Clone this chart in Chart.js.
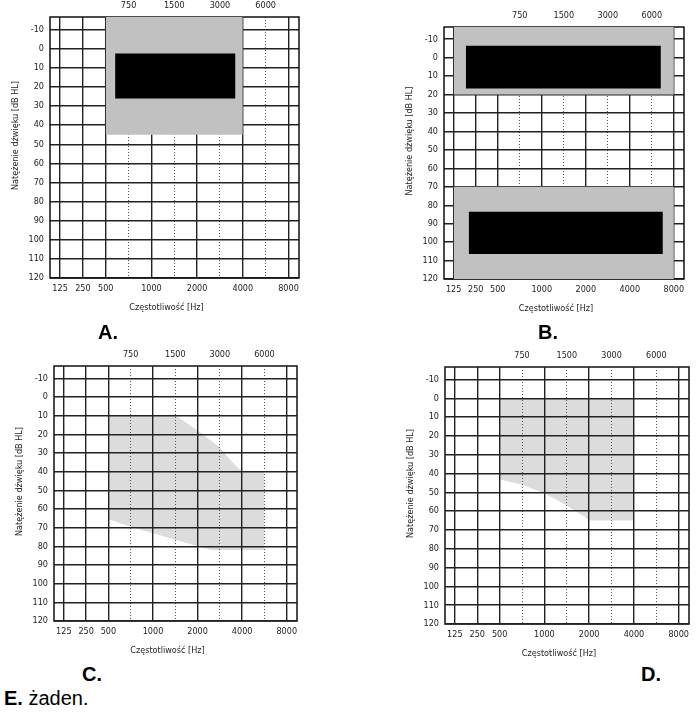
<!DOCTYPE html>
<html>
<head>
<meta charset="utf-8">
<script src="https://cdn.jsdelivr.net/npm/chart.js@4.4.1/dist/chart.umd.min.js"></script>
<style>
  body { margin: 0; background: #fff; width: 696px; height: 721px; position: relative; overflow: hidden;
         font-family: "Liberation Sans", Arial, sans-serif; }
  canvas { position: absolute; }
  .lbl { position: absolute; font-size: 20px; line-height: 20px; font-weight: bold; color: #000; }
  .lbl span { font-weight: normal; }
</style>
</head>
<body>
<canvas id="chartA" width="348" height="320" style="left:0;top:0"></canvas>
<canvas id="chartB" width="348" height="320" style="left:348px;top:0"></canvas>
<canvas id="chartC" width="348" height="330" style="left:0;top:330px"></canvas>
<canvas id="chartD" width="348" height="330" style="left:348px;top:330px"></canvas>
<div class="lbl" style="left:98px;top:322px">A.</div>
<div class="lbl" style="left:538px;top:322px">B.</div>
<div class="lbl" style="left:82px;top:664px">C.</div>
<div class="lbl" style="left:641px;top:664px">D.</div>
<div class="lbl" style="left:4px;top:688px">E. <span>żaden.</span></div>
<script>
// audiogram columns are evenly spaced: 125,250,500,750,1000,1500,2000,3000,4000,6000,8000 -> 0..10
const bottomFreqs = ['125', '250', '500', '1000', '2000', '4000', '8000'];
const bottomPos = [0, 1, 2, 4, 6, 8, 10];
const topFreqs = ['750', '1500', '3000', '6000'];
const topPos = [3, 5, 7, 9];
const dbTicks = [-10, 0, 10, 20, 30, 40, 50, 60, 70, 80, 90, 100, 110, 120];
const xTitle = 'Częstotliwość [Hz]';
const yTitle = 'Natężenie dźwięku [dB HL]';

// panel A
const aShadeX = [2, 8];
const aShadeDb = 45;
const aBlockX = [2.41, 7.68];
const aBlockDb = [2.5, 26];

// panel B
const bShadeX = [0, 10];
const bShadeTopDb = 20;
const bShadeBottomDb = 70;
const bBlockTopX = [0.55, 9.41];
const bBlockTopDb = [-6.5, 16.7];
const bBlockBottomX = [0.68, 9.5];
const bBlockBottomDb = [83.5, 106.5];

// panel C
const cUpperX = [2, 5.04, 6, 7, 7.56, 8, 9];
const cUpperDb = [10, 10, 18, 27, 35, 40, 40];
const cLowerX = [2, 3, 4, 5, 6, 6.6, 9];
const cLowerDb = [65.5, 69.5, 73, 76.5, 80, 82, 82];

// panel D
const dUpperX = [2, 8];
const dUpperDb = [0, 0];
const dLowerX = [2, 3, 4, 5, 5.8, 6, 8];
const dLowerDb = [43, 46, 50.5, 57, 63, 65, 65];

const xMin = -0.44, xMax = 10.46;
const yTop = -16.6, yBottom = 120;
const tickFont = { family: '"Liberation Sans Narrow", "DejaVu Sans Condensed", "Liberation Sans", sans-serif', size: 9 };

function line(xs, ys, fill, color) {
  return {
    data: xs.map((x, i) => ({ x: x, y: ys[i] })),
    fill: fill,
    backgroundColor: color,
    borderColor: 'rgba(0,0,0,0)',
    borderWidth: 0,
    pointRadius: 0,
    tension: 0
  };
}

// plot frame + axis titles
const frame = {
  id: 'frame',
  beforeDatasetsDraw(chart) {
    const { ctx, chartArea: a } = chart;
    ctx.save();
    ctx.strokeStyle = '#111';
    ctx.lineWidth = 1.5;
    ctx.strokeRect(a.left, a.top, a.right - a.left, a.bottom - a.top);
    ctx.restore();
  },
  afterDraw(chart) {
    const { ctx, chartArea: a } = chart;
    ctx.save();
    ctx.fillStyle = '#222';
    ctx.font = '9px "Liberation Sans Narrow", "DejaVu Sans Condensed", "Liberation Sans", sans-serif';
    ctx.textAlign = 'center';
    ctx.textBaseline = 'middle';
    ctx.fillText(xTitle, (a.left + a.right) / 2 - 8, a.bottom + 30);
    ctx.translate(a.left - 34, (a.top + a.bottom) / 2 - 12);
    ctx.rotate(-Math.PI / 2);
    ctx.fillText(yTitle, 0, 0);
    ctx.restore();
  }
};

function makeChart(id, datasets, g, gridOnTop) {
  const gz = gridOnTop ? 1 : -1;
  return new Chart(document.getElementById(id), {
    type: 'line',
    data: { datasets: datasets },
    plugins: [frame],
    options: {
      responsive: false,
      animation: false,
      layout: { padding: { left: 0, top: 0, right: g.right, bottom: 0 } },
      plugins: { legend: { display: false }, tooltip: { enabled: false } },
      scales: {
        x: {
          type: 'linear', position: 'bottom', min: xMin, max: xMax,
          afterBuildTicks: s => { s.ticks = bottomPos.map(v => ({ value: v })); },
          afterFit: s => { s.height = g.bottom; },
          ticks: { callback: v => bottomFreqs[bottomPos.indexOf(v)], padding: 5, font: tickFont, color: '#222', maxRotation: 0, autoSkip: false },
          grid: { color: '#222', lineWidth: 1.4, drawTicks: false, z: gz },
          border: { display: false }
        },
        xTop: {
          type: 'linear', position: 'top', min: xMin, max: xMax,
          afterBuildTicks: s => { s.ticks = topPos.map(v => ({ value: v })); },
          afterFit: s => { s.height = g.top; },
          ticks: { callback: v => topFreqs[topPos.indexOf(v)], padding: 6, font: tickFont, color: '#222', maxRotation: 0, autoSkip: false },
          grid: { color: '#555', lineWidth: 1, drawTicks: false, z: gz },
          border: { display: false, dash: [1, 2] }
        },
        y: {
          type: 'linear', reverse: true, min: yTop, max: yBottom,
          afterBuildTicks: s => { s.ticks = dbTicks.map(v => ({ value: v })); },
          afterFit: s => { s.width = g.left; },
          ticks: { padding: 6, font: tickFont, color: '#222', autoSkip: false },
          grid: { color: '#222', lineWidth: 1.4, drawTicks: false, z: gz },
          border: { display: false }
        }
      }
    }
  });
}

const shadeDark = '#c1c1c1';
const shadeLight = '#dcdcdc';

makeChart('chartA', [
  line(aBlockX, [aBlockDb[0], aBlockDb[0]], { value: aBlockDb[1] }, '#000'),
  line(aShadeX, [aShadeDb, aShadeDb], { value: yTop }, shadeDark)
], { left: 50, top: 17, right: 49, bottom: 42 }, false);

makeChart('chartB', [
  line(bBlockTopX, [bBlockTopDb[0], bBlockTopDb[0]], { value: bBlockTopDb[1] }, '#000'),
  line(bBlockBottomX, [bBlockBottomDb[0], bBlockBottomDb[0]], { value: bBlockBottomDb[1] }, '#000'),
  line(bShadeX, [bShadeTopDb, bShadeTopDb], { value: yTop }, shadeDark),
  line(bShadeX, [bShadeBottomDb, bShadeBottomDb], { value: yBottom }, shadeDark)
], { left: 96, top: 27, right: 12, bottom: 41 }, false);

makeChart('chartC', [
  line(cUpperX, cUpperDb, '+1', shadeLight),
  line(cLowerX, cLowerDb, false, shadeLight)
], { left: 54, top: 36, right: 51, bottom: 39 }, true);

makeChart('chartD', [
  line(dUpperX, dUpperDb, '+1', shadeLight),
  line(dLowerX, dLowerDb, false, shadeLight)
], { left: 97, top: 37, right: 7, bottom: 36 }, true);
</script>
</body>
</html>
